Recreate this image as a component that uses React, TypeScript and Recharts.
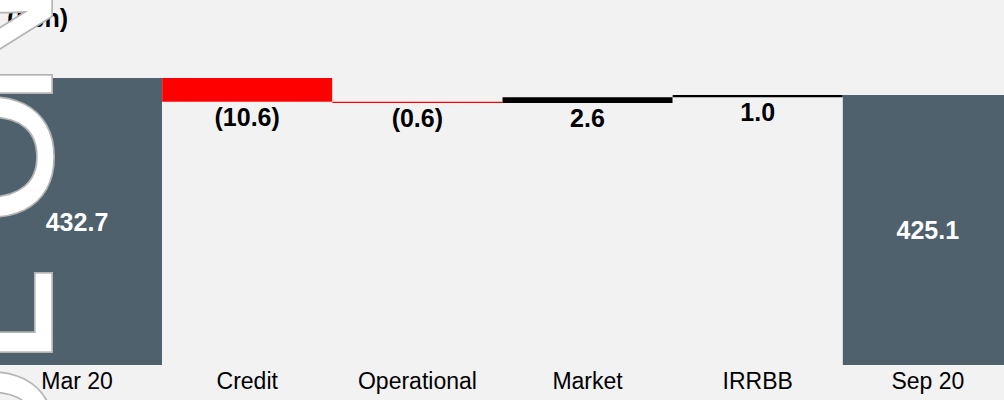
import React from "react";
import { Bar, BarChart, Cell, LabelList, XAxis, YAxis } from "recharts";

const categories = ["Mar 20", "Credit", "Operational", "Market", "IRRBB", "Sep 20"];
const values = [432.7, -10.6, -0.6, 2.6, 1.0, 425.1];
const isTotal = [true, false, false, false, false, true];
const valueLabels = ["432.7", "(10.6)", "(0.6)", "2.6", "1.0", "425.1"];

// y axis does not start at zero in the original
const AXIS_MIN = 304.4;
const AXIS_MAX = 432.7;

const TOTAL_COLOR = "#4e616c";

let running = 0;
const data = categories.map((name, i) => {
  let range: [number, number];
  if (isTotal[i]) {
    range = [AXIS_MIN, values[i]];
    running = values[i];
  } else {
    const next = running + values[i];
    range = [Math.min(running, next), Math.max(running, next)];
    running = next;
  }
  return { name, range, value: values[i], label: valueLabels[i] };
});

const colorFor = (i: number) => (isTotal[i] ? TOTAL_COLOR : values[i] < 0 ? "#ff0000" : "#000000");

const ValueLabel = (props: any) => {
  const { x, y, width, height, index } = props;
  const top = Math.min(y, y + height);
  const bottom = Math.max(y, y + height);
  const cx = x + width / 2;
  if (isTotal[index]) {
    return (
      <text x={cx} y={(top + bottom) / 2 + 9} textAnchor="middle" fill="#fff" fontWeight="bold" fontSize={25}>
        {valueLabels[index]}
      </text>
    );
  }
  return (
    <text x={cx} y={bottom + 24} textAnchor="middle" fill="#000" fontWeight="bold" fontSize={25}>
      {valueLabels[index]}
    </text>
  );
};

// faint outlined letters along the left edge (watermark)
const watermark = [
  { ch: "O", at: 498 },
  { ch: "L", at: 364 },
  { ch: "O", at: 223 },
  { ch: "N", at: 105 },
];

export default function App() {
  return (
    <div
      style={{
        position: "fixed",
        left: 0,
        top: 0,
        width: 1004,
        height: 400,
        overflow: "hidden",
        background: "#f2f2f2",
        fontFamily: "'Liberation Sans', Arial, sans-serif",
      }}
    >
      <div style={{ position: "absolute", left: -8, top: 0 }}>
        <BarChart
          width={1021}
          height={400}
          data={data}
          margin={{ top: 78, right: 0, bottom: 0, left: 0 }}
          barCategoryGap={0}
        >
          <XAxis
            dataKey="name"
            height={35}
            axisLine={false}
            tickLine={false}
            interval={0}
            tick={{ fill: "#000", fontSize: 23 }}
          />
          <YAxis hide domain={[AXIS_MIN, AXIS_MAX]} allowDataOverflow />
          <Bar dataKey="range" isAnimationActive={false}>
            {data.map((d, i) => (
              <Cell key={d.name} fill={colorFor(i)} />
            ))}
            <LabelList dataKey="label" content={ValueLabel} />
          </Bar>
        </BarChart>
      </div>
      <svg width={1004} height={400} style={{ position: "absolute", left: 0, top: 0, pointerEvents: "none" }}>
        <text x={7} y={27} fontSize={25} fontWeight="bold" fill="#000">
          (£bn)
        </text>
        {watermark.map((w, i) => (
          <g key={i} transform={`translate(50, ${w.at}) rotate(-90)`} fontSize={170}>
            <text fill="#b4b4b4" stroke="#b4b4b4" strokeWidth={6} strokeLinejoin="miter">
              {w.ch}
            </text>
            <text fill="#ffffff" stroke="#ffffff" strokeWidth={2.5} strokeLinejoin="miter">
              {w.ch}
            </text>
          </g>
        ))}
      </svg>
    </div>
  );
}
